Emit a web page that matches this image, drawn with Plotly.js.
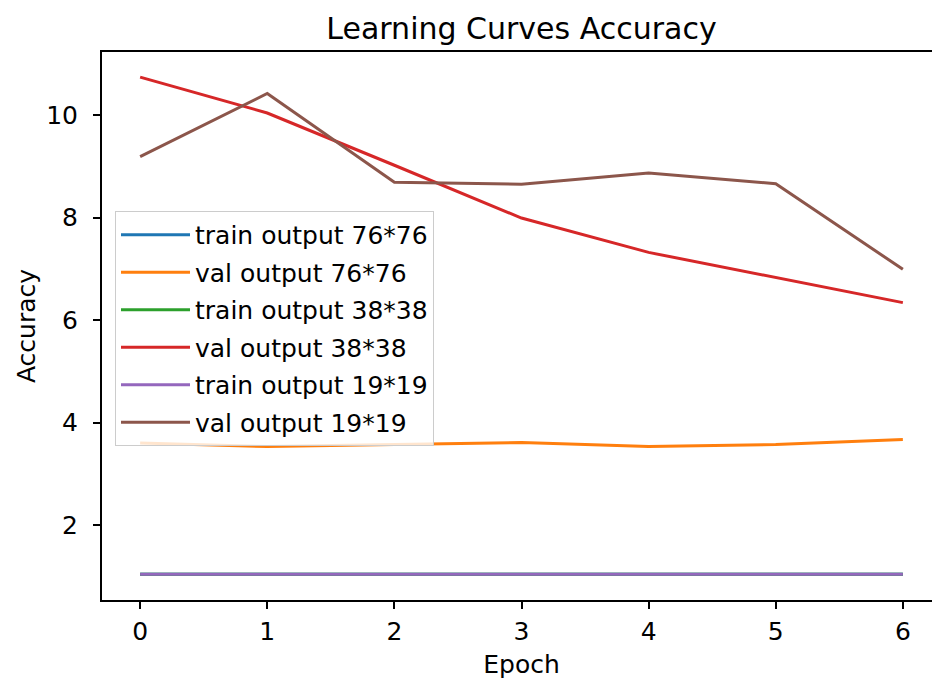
<!DOCTYPE html>
<html>
<head>
<meta charset="utf-8">
<script src="https://cdn.plot.ly/plotly-3.0.1.min.js"></script>
<style>
html, body { margin: 0; padding: 0; overflow: hidden; background: #fff; }
#chart { width: 942px; height: 686px; }
</style>
</head>
<body>
<div id="chart"></div>
<script>
// Data
const epochs = [0, 1, 2, 3, 4, 5, 6];
const trainOut76 = [1.04, 1.04, 1.04, 1.04, 1.04, 1.04, 1.04];
const valOut76 = [3.60, 3.53, 3.57, 3.61, 3.53, 3.57, 3.67];
const trainOut38 = [1.04, 1.04, 1.04, 1.04, 1.04, 1.04, 1.04];
const valOut38 = [10.74, 10.04, 9.02, 7.99, 7.32, 6.83, 6.34];
const trainOut19 = [1.04, 1.04, 1.04, 1.04, 1.04, 1.04, 1.04];
const valOut19 = [9.19, 10.42, 8.69, 8.65, 8.87, 8.66, 6.99];
const seriesNames = ["train output 76*76", "val output 76*76", "train output 38*38",
                     "val output 38*38", "train output 19*19", "val output 19*19"];
const seriesValues = [trainOut76, valOut76, trainOut38, valOut38, trainOut19, valOut19];
const colors = ["#1f77b4", "#ff7f0e", "#2ca02c", "#d62728", "#9467bd", "#8c564b"];
const xTicks = [0, 1, 2, 3, 4, 5, 6];
const yTicks = [2, 4, 6, 8, 10];

const font = "DejaVu Sans, sans-serif";
const traces = seriesNames.map((name, i) => ({
  x: epochs,
  y: seriesValues[i],
  type: "scatter",
  mode: "lines",
  name: name,
  legendgroup: "g" + i,
  line: { color: colors[i], width: 3 },
  hoverinfo: "skip"
}));

const layout = {
  width: 942,
  height: 686,
  paper_bgcolor: "#ffffff",
  plot_bgcolor: "#ffffff",
  margin: { l: 102, r: 1, t: 52, b: 86 },
  font: { family: font, size: 25, color: "#000000" },
  title: {
    text: "Learning Curves Accuracy",
    font: { family: font, size: 30, color: "#000000" },
    x: 0.5, xref: "paper",
    y: 1 - 28 / 686, yref: "container", yanchor: "middle"
  },
  showlegend: true,
  legend: {
    x: 0.0155, y: 0.71, xanchor: "left", yanchor: "top",
    bgcolor: "rgba(255,255,255,0.8)",
    bordercolor: "#cccccc", borderwidth: 1,
    font: { family: font, size: 25, color: "#000000" },
    traceorder: "grouped",
    tracegroupgap: 2,
    itemwidth: 69
  },
  xaxis: {
    range: [-0.3, 6.3],
    tickvals: xTicks,
    ticktext: xTicks.map(String),
    ticks: "outside", ticklen: 7, tickwidth: 2, tickcolor: "#000",
    ticklabelstandoff: 1,
    showline: true, linecolor: "#000", linewidth: 2, mirror: true,
    showgrid: false, zeroline: false,
    tickfont: { family: font, size: 25, color: "#000" },
    title: { text: "Epoch", font: { family: font, size: 25, color: "#000" }, standoff: 10 }
  },
  yaxis: {
    range: [0.537, 11.23],
    tickvals: yTicks,
    ticktext: yTicks.map(String),
    ticks: "outside", ticklen: 7, tickwidth: 2, tickcolor: "#000",
    ticklabelstandoff: 10,
    showline: true, linecolor: "#000", linewidth: 2, mirror: true,
    showgrid: false, zeroline: false,
    tickfont: { family: font, size: 25, color: "#000" },
    title: { text: "Accuracy", font: { family: font, size: 25, color: "#000" }, standoff: 3 }
  }
};

Plotly.newPlot("chart", traces, layout, { displayModeBar: false, staticPlot: true });
</script>
</body>
</html>
